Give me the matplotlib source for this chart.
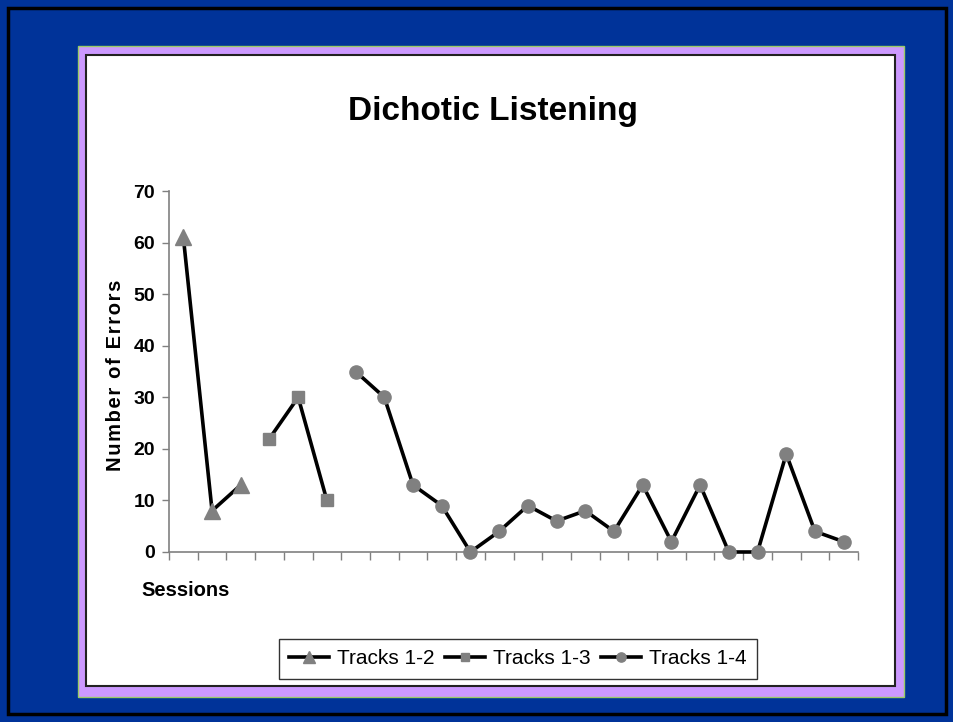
import matplotlib
matplotlib.use("Agg")
import matplotlib.pyplot as plt
from matplotlib.patches import Rectangle
import numpy as np

plt.rcParams['font.family'] = ['Liberation Sans', 'DejaVu Sans']

title = "Dichotic Listening"
ylabel = "Number of Errors"
xlabel = "Sessions"
series_names = ["Tracks 1-2", "Tracks 1-3", "Tracks 1-4"]
sessions_12 = [1, 2, 3]
errors_12 = [61, 8, 13]
sessions_13 = [4, 5, 6]
errors_13 = [22, 30, 10]
sessions_14 = list(range(7, 25))
errors_14 = [35, 30, 13, 9, 0, 4, 9, 6, 8, 4, 13, 2, 13, 0, 0, 19, 4, 2]
n_sessions = 24
yticks = [0, 10, 20, 30, 40, 50, 60, 70]

W, H = 954, 722
fig = plt.figure(figsize=(W / 100, H / 100), dpi=100)
fig.patch.set_facecolor('#003399')

def frac_rect(x0, y0, x1, y1, **kw):
    return Rectangle((x0 / W, 1 - y1 / H), (x1 - x0) / W, (y1 - y0) / H,
                     transform=fig.transFigure, zorder=-5, **kw)

# outer black border
fig.patches.append(frac_rect(8, 8, 946, 714, facecolor='none', edgecolor='black', linewidth=2.5))
# purple panel
fig.patches.append(frac_rect(78, 46, 904, 697, facecolor='#CC99FF', edgecolor='#99CC66', linewidth=1))
# white plot area
fig.patches.append(frac_rect(86, 55, 895, 686, facecolor='white', edgecolor='#222222', linewidth=1.5))

ax = fig.add_axes([169 / W, 1 - 552 / H, (858 - 169) / W, (552 - 191) / H])
ax.set_facecolor('none')
ax.set_zorder(2)

gray = '#808080'
ax.plot(sessions_12, errors_12, color='black', lw=2.6, marker='^', ms=12,
        mfc=gray, mec=gray, label=series_names[0], clip_on=False, zorder=3)
ax.plot(sessions_13, errors_13, color='black', lw=2.6, marker='s', ms=9,
        mfc=gray, mec=gray, label=series_names[1], clip_on=False, zorder=3)
ax.plot(sessions_14, errors_14, color='black', lw=2.6, marker='o', ms=9.5,
        mfc=gray, mec=gray, label=series_names[2], clip_on=False, zorder=3)

ax.set_xlim(0.5, n_sessions + 0.5)
ax.set_ylim(0, 70)
ax.set_yticks(yticks)
ax.set_yticklabels([str(v) for v in yticks], fontsize=14, fontweight='bold')
ax.set_xticks(np.arange(0.5, n_sessions + 1, 1))
ax.set_xticklabels([])
ax.tick_params(axis='x', direction='out', length=6, width=1, color=gray)
ax.tick_params(axis='y', direction='out', length=5, width=1, color=gray, pad=5)
for s in ['top', 'right']:
    ax.spines[s].set_visible(False)
for s in ['left', 'bottom']:
    ax.spines[s].set_color(gray)
    ax.spines[s].set_linewidth(1.2)

fig.text(493 / W, 1 - 120 / H, title, fontsize=24, fontweight='bold', ha='center', va='baseline')
spaced = "\u200a".join(ylabel)
fig.text(116 / W, 1 - 375 / H, spaced, family=['Liberation Sans', 'DejaVu Sans'],
         fontsize=14.5, fontweight='bold', rotation=90, ha='center', va='center')
fig.text(141 / W, 1 - 596 / H, xlabel, fontsize=14.5, fontweight='bold', ha='left', va='baseline')

leg = fig.legend(loc='center', bbox_to_anchor=(518 / W, 1 - 659 / H), ncol=3,
                 fontsize=15, frameon=True, fancybox=False, edgecolor='black',
                 handlelength=1.9, handletextpad=0.4, columnspacing=0.5,
                 borderpad=0.5, borderaxespad=0, markerscale=0.7)
leg.get_frame().set_linewidth(1)
leg.set_zorder(3)

fig.savefig('out.png', dpi=100, facecolor=fig.get_facecolor())
